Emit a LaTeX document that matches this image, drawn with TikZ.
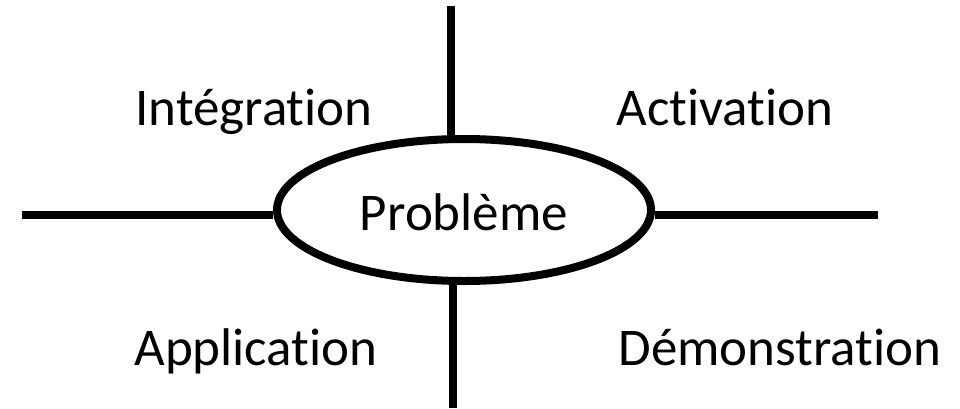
\documentclass[tikz,border=0pt]{standalone}
\usepackage{fontspec}
\setmainfont[Ligatures={NoCommon,NoDiscretionary}]{Carlito}
\usetikzlibrary{shapes.geometric}
\begin{document}
\begin{tikzpicture}[x=1pt,y=-1pt,
  axis/.style={line width=8pt},
  lbl/.style={anchor=base,inner sep=0pt,font=\fontsize{53}{63}\selectfont}]
\useasboundingbox (0,0) rectangle (960,408);
\coordinate (top) at (451,6);
\coordinate (bot) at (453,408);
\coordinate (left) at (22,215);
\coordinate (right) at (878,215);
\node[ellipse,draw,line width=8pt,minimum width=374pt,minimum height=142pt,inner sep=0pt] (pb) at (464,210) {};
\node[lbl] (ptxt) at (464,230) {Problème};
\draw[axis] (top) -- (451,139);
\draw[axis] (bot) -- (453,281);
\draw[axis] (left) -- (pb.west |- left);
\draw[axis] (right) -- (pb.east |- right);
\node[lbl] (int) at (254,125) {Intégration};
\node[lbl] (act) at (725,125) {Activation};
\node[lbl] (app) at (256,365) {Application};
\node[lbl] (dem) at (780,365) {Démonstration};
\end{tikzpicture}
\end{document}
